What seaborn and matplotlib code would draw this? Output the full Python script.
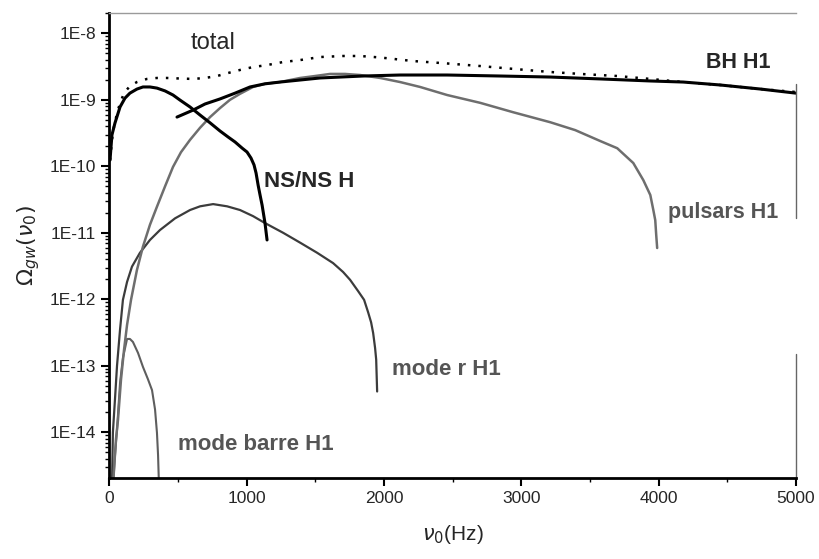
import numpy as np
import matplotlib
matplotlib.use("Agg")
import matplotlib.pyplot as plt
import seaborn as sns
from matplotlib.ticker import LogLocator, NullFormatter, MultipleLocator

# Valeurs (frequence en Hz, Omega_gw)
total_f = [4, 25, 55, 77, 106, 149, 200, 273, 346, 419, 514, 609, 696, 784, 864, 951,
           1046, 1148, 1265, 1389, 1534, 1702, 1826, 1972, 2212, 2460, 2701, 2956,
           3211, 3430, 3699, 3940, 4180, 4450, 4745, 5000]
total_om = [1.24e-10, 3.3e-10, 6.3e-10, 8.9e-10, 1.26e-9, 1.61e-9, 1.85e-9, 2.06e-9,
            2.13e-9, 2.13e-9, 2.09e-9, 2.06e-9, 2.13e-9, 2.28e-9, 2.53e-9, 2.81e-9,
            3.11e-9, 3.33e-9, 3.7e-9, 3.96e-9, 4.4e-9, 4.56e-9, 4.56e-9, 4.33e-9,
            3.83e-9, 3.52e-9, 3.22e-9, 2.9e-9, 2.62e-9, 2.45e-9, 2.28e-9, 2.06e-9,
            1.85e-9, 1.67e-9, 1.45e-9, 1.31e-9]

ns_f = [4, 18, 40, 77, 113, 149, 200, 244, 295, 346, 405, 463, 514, 587, 660, 733,
        805, 864, 915, 966, 1002, 1031, 1053, 1068, 1083, 1097, 1112, 1133, 1148]
ns_om = [1.24e-10, 2.96e-10, 4.47e-10, 7.8e-10, 1.06e-9, 1.26e-9, 1.45e-9, 1.56e-9,
         1.56e-9, 1.50e-9, 1.36e-9, 1.18e-9, 9.9e-10, 7.8e-10, 5.9e-10, 4.5e-10,
         3.4e-10, 2.76e-10, 2.32e-10, 1.88e-10, 1.64e-10, 1.33e-10, 1.05e-10, 7.9e-11,
         5.2e-11, 3.7e-11, 2.6e-11, 1.4e-11, 7.8e-12]

bh_f = [492, 609, 696, 805, 915, 1024, 1133, 1243, 1534, 1848, 2117, 2460, 2846,
        3211, 3575, 3940, 4180, 4450, 4745, 5000]
bh_om = [5.5e-10, 7.0e-10, 8.65e-10, 1.03e-9, 1.26e-9, 1.56e-9, 1.74e-9, 1.85e-9,
         2.13e-9, 2.28e-9, 2.36e-9, 2.36e-9, 2.28e-9, 2.2e-9, 2.06e-9, 1.92e-9,
         1.85e-9, 1.67e-9, 1.45e-9, 1.26e-9]

puls_f = [25, 47, 62, 84, 106, 128, 157, 200, 244, 295, 346, 405, 463, 521, 587, 660,
          733, 805, 878, 951, 1046, 1133, 1243, 1389, 1498, 1607, 1716, 1826, 1972,
          2117, 2263, 2460, 2701, 2941, 3211, 3393, 3575, 3699, 3816, 3889, 3940,
          3962, 3976, 3983, 3990]
puls_om = [1.5e-15, 7.7e-15, 1.53e-14, 6.2e-14, 1.73e-13, 4.1e-13, 9.8e-13, 2.75e-12,
           6.2e-12, 1.32e-11, 2.47e-11, 5.0e-11, 9.8e-11, 1.63e-10, 2.5e-10, 3.8e-10,
           5.5e-10, 7.5e-10, 1.0e-9, 1.23e-9, 1.56e-9, 1.74e-9, 1.85e-9, 2.13e-9,
           2.28e-9, 2.45e-9, 2.45e-9, 2.36e-9, 2.13e-9, 1.85e-9, 1.56e-9, 1.18e-9,
           9.0e-10, 6.5e-10, 4.6e-10, 3.5e-10, 2.4e-10, 1.87e-10, 1.12e-10, 6.2e-11,
           3.7e-11, 2.2e-11, 1.55e-11, 9.3e-12, 5.9e-12]

moder_f = [18, 25, 40, 55, 77, 98, 128, 164, 222, 295, 368, 478, 587, 660, 755, 857,
           951, 1046, 1133, 1265, 1389, 1513, 1629, 1702, 1753, 1811, 1855, 1884, 1906,
           1921, 1935, 1943, 1950]
moder_om = [1.5e-15, 1.0e-14, 3.1e-14, 1.0e-13, 3.5e-13, 9.8e-13, 1.82e-12, 3.1e-12,
            5.0e-12, 7.8e-12, 1.1e-11, 1.65e-11, 2.2e-11, 2.5e-11, 2.7e-11, 2.5e-11,
            2.2e-11, 1.78e-11, 1.4e-11, 1.0e-11, 7.1e-12, 5.0e-12, 3.5e-12, 2.57e-12,
            1.96e-12, 1.33e-12, 9.8e-13, 6.4e-13, 4.5e-13, 3.1e-13, 1.85e-13, 1.24e-13,
            4.1e-14]

barre_f = [25, 40, 55, 77, 98, 128, 149, 171, 208, 244, 280, 310, 332, 346, 354, 361]
barre_om = [1.5e-15, 4.4e-15, 1.1e-14, 5.5e-14, 1.31e-13, 2.53e-13, 2.53e-13, 2.28e-13,
            1.56e-13, 9.6e-14, 6.3e-14, 4.3e-14, 2.2e-14, 9.8e-15, 4.5e-15, 1.5e-15]

ytick_vals = [1e-14, 1e-13, 1e-12, 1e-11, 1e-10, 1e-9, 1e-8]
ytick_labels = ['1E-14', '1E-13', '1E-12', '1E-11', '1E-10', '1E-9', '1E-8']

sns.set_style("ticks")
plt.rcParams['font.family'] = ['Liberation Sans', 'DejaVu Sans']
plt.rcParams['mathtext.fontset'] = 'dejavusans'

fig = plt.figure(figsize=(8.2, 5.59), dpi=100)
ax = fig.add_axes([0.1335, 0.1454, 0.837, 0.8308])

# courbes
sns.lineplot(x=barre_f, y=barre_om, ax=ax, color='#5e5e5e', linewidth=1.5, sort=False, estimator=None)
sns.lineplot(x=moder_f, y=moder_om, ax=ax, color='#3c3c3c', linewidth=1.6, sort=False, estimator=None)
sns.lineplot(x=puls_f, y=puls_om, ax=ax, color='#6e6e6e', linewidth=1.8, sort=False, estimator=None)
sns.lineplot(x=bh_f, y=bh_om, ax=ax, color='black', linewidth=2.2, sort=False, estimator=None)
sns.lineplot(x=ns_f, y=ns_om, ax=ax, color='black', linewidth=2.2, sort=False, estimator=None)
sns.lineplot(x=total_f, y=total_om, ax=ax, color='black', linewidth=1.8,
             linestyle=(0, (1, 3.2)), sort=False, estimator=None)

ax.set_yscale('log')
ax.set_xlim(0, 5000)
ax.set_ylim(2.07e-15, 2e-8)

ax.set_yticks(ytick_vals)
ax.set_yticklabels(ytick_labels)
ax.yaxis.set_minor_locator(LogLocator(base=10, subs=np.arange(2, 10)))
ax.yaxis.set_minor_formatter(NullFormatter())
ax.xaxis.set_major_locator(MultipleLocator(1000))
ax.xaxis.set_minor_locator(MultipleLocator(500))

ax.tick_params(which='major', direction='out', length=6, width=1.5, labelsize=12.5, color='black')
ax.tick_params(which='minor', direction='out', length=3, width=1, color='black')

for s in ['left', 'bottom']:
    ax.spines[s].set_linewidth(2)
    ax.spines[s].set_color('black')
ax.spines['top'].set_color('#9a9a9a')
ax.spines['top'].set_linewidth(1)
ax.spines['right'].set_visible(False)
# bord droit interrompu comme sur l'original
ax.axvline(5000, ymin=0, ymax=0.266, color='#666666', lw=1, clip_on=False)
ax.axvline(5000, ymin=0.559, ymax=0.848, color='#666666', lw=1, clip_on=False)

ax.set_xlabel(r'$\nu_0$(Hz)', fontsize=15, labelpad=12)
ax.set_ylabel(r'$\Omega_{gw}(\nu_0)$', fontsize=16, labelpad=6)

# etiquettes
ax.text(754, 7.1e-9, 'total', fontsize=17, ha='center', va='center')
ax.text(4580, 3.7e-9, 'BH H1', fontsize=15.5, fontweight='bold', ha='center', va='center')
ax.text(1126, 6.0e-11, 'NS/NS H', fontsize=16, fontweight='bold', ha='left', va='center')
ax.text(4071, 2.0e-11, 'pulsars H1', fontsize=15.5, fontweight='bold', color='#555555',
        ha='left', va='center')
ax.text(2059, 8.7e-14, 'mode r H1', fontsize=16, fontweight='bold', color='#555555',
        ha='left', va='center')
ax.text(499, 6.5e-15, 'mode barre H1', fontsize=16, fontweight='bold', color='#555555',
        ha='left', va='center')

fig.savefig('out.png', dpi=100)
